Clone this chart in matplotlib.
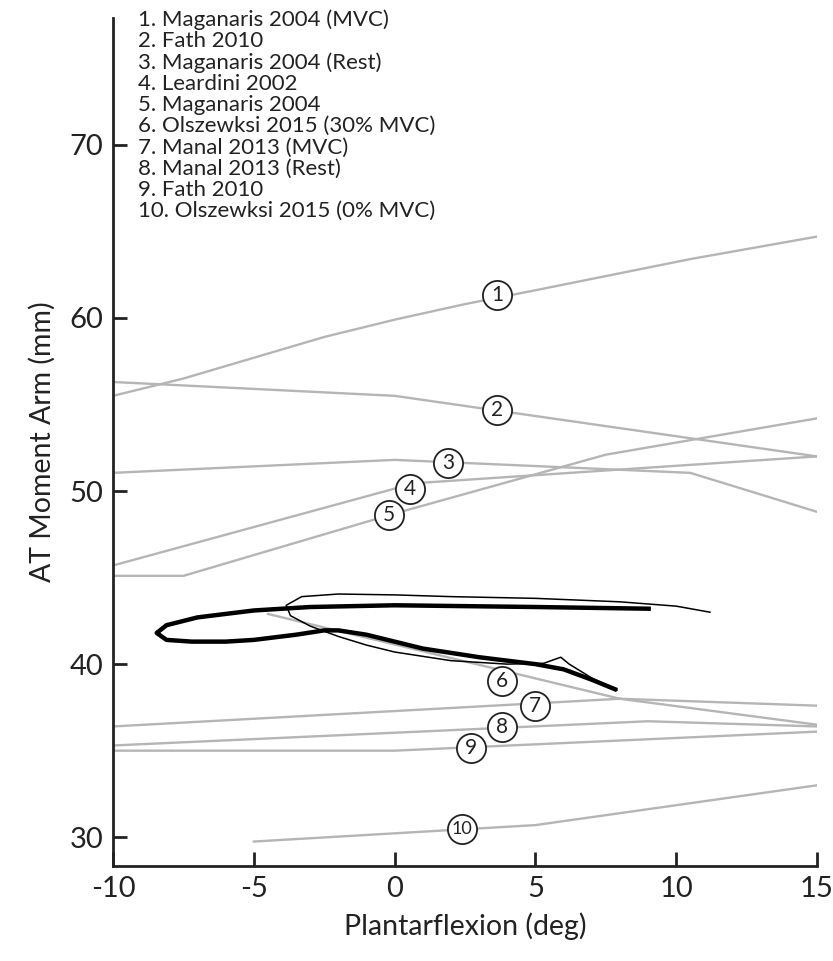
import numpy as np
import matplotlib
matplotlib.use("Agg")
from matplotlib import pyplot as plt

plt.rcParams['font.family'] = ['Lato', 'DejaVu Sans']
plt.rcParams['axes.unicode_minus'] = False

# study names for the key
studies = ['Maganaris 2004 (MVC)', 'Fath 2010', 'Maganaris 2004 (Rest)',
           'Leardini 2002', 'Maganaris 2004', 'Olszewksi 2015 (30% MVC)',
           'Manal 2013 (MVC)', 'Manal 2013 (Rest)', 'Fath 2010',
           'Olszewksi 2015 (0% MVC)']

# literature curves (angle in deg, moment arm in mm)
s1_x = [-10, -7.5, -5, -2.5, 0, 2.5, 5, 10.5, 15]
s1_y = [55.5, 56.5, 57.7, 58.9, 59.9, 60.8, 61.6, 63.4, 64.7]
s2_x = [-10, 0, 15]
s2_y = [56.3, 55.5, 52.0]
s3_x = [-10, 0, 10.5, 15]
s3_y = [51.05, 51.8, 51.05, 48.8]
s4_x = [-10, 0.7, 15]
s4_y = [45.7, 50.45, 52.0]
s5_x = [-10, -7.5, 0, 7.5, 15]
s5_y = [45.1, 45.1, 48.7, 52.1, 54.2]
s6_x = [-4.5, 8, 15]
s6_y = [42.9, 38.0, 36.5]
s7_x = [-10, 8, 15]
s7_y = [36.4, 38.0, 37.6]
s8_x = [-10, 9, 15]
s8_y = [35.3, 36.7, 36.4]
s9_x = [-10, 0, 15]
s9_y = [35.0, 35.0, 36.1]
s10_x = [-5, 5, 15]
s10_y = [29.75, 30.7, 33.0]

# measured loops (thin and thick)
thin_x = [11.2, 10.0, 8.0, 5.0, 2.0, 0.0, -2.0, -3.3, -3.85, -3.7, -3.0,
          -2.0, -1.0, 0.0, 2.0, 4.0, 5.3, 5.9, 6.2, 7.0, 7.9]
thin_y = [43.0, 43.35, 43.6, 43.8, 43.9, 44.0, 44.05, 43.9, 43.4, 42.8, 42.2,
          41.6, 41.1, 40.7, 40.2, 40.0, 40.05, 40.4, 40.0, 39.2, 38.5]
thick_x = [9.1, 5.0, 0.0, -3.0, -5.0, -7.0, -8.1, -8.45, -8.1, -7.2, -6.0,
           -5.0, -3.5, -2.5, -2.0, -1.0, 0.0, 1.0, 3.0, 5.0, 6.0, 7.0, 7.9]
thick_y = [43.2, 43.3, 43.4, 43.3, 43.1, 42.7, 42.25, 41.8, 41.4, 41.3, 41.3,
           41.4, 41.7, 41.95, 41.95, 41.7, 41.3, 40.9, 40.4, 40.0, 39.7, 39.1, 38.5]

# circled number positions
lab_x = [3.64, 3.64, 1.9, 0.55, -0.2, 3.8, 5.0, 3.8, 2.7, 2.4]
lab_y = [61.3, 54.7, 51.6, 50.1, 48.6, 39.0, 37.6, 36.35, 35.15, 30.5]

series = [(s1_x, s1_y), (s2_x, s2_y), (s3_x, s3_y), (s4_x, s4_y), (s5_x, s5_y),
          (s6_x, s6_y), (s7_x, s7_y), (s8_x, s8_y), (s9_x, s9_y), (s10_x, s10_y)]

fig = plt.figure(figsize=(8.33, 9.61), dpi=100)
ax = fig.add_axes([0.1357, 0.0989, 0.8451, 0.8824])

for sx, sy in series:
    ax.plot(sx, sy, color='#b5b5b5', lw=1.7, zorder=2)

ax.plot(thin_x, thin_y, color='black', lw=1.1, zorder=3)
ax.plot(thick_x, thick_y, color='black', lw=3.2, zorder=4, solid_capstyle='butt')

# circled labels
ax.scatter(lab_x, lab_y, s=440, facecolor='white', edgecolor='#222222',
           linewidth=1.3, zorder=5)
for i, (lx, ly) in enumerate(zip(lab_x, lab_y)):
    num = str(i + 1)
    ax.text(lx, ly, num, ha='center', va='center', zorder=6,
            fontsize=15 if len(num) == 1 else 13, color='#222222')

# key in the top left
key = '\n'.join(f'{i + 1}. {name}' for i, name in enumerate(studies))
ax.text(0.036, 1.01, key, transform=ax.transAxes, ha='left', va='top',
        fontsize=16, color='#222222', linespacing=1.07)

ax.set_xlim(-10, 15)
ax.set_ylim(28.34, 77.33)
ax.set_xticks([-10, -5, 0, 5, 10, 15])
ax.set_yticks([30, 40, 50, 60, 70])
ax.tick_params(direction='in', length=10, width=2, labelsize=21, colors='#222222', pad=7)
for spine in ('top', 'right'):
    ax.spines[spine].set_visible(False)
for spine in ('left', 'bottom'):
    ax.spines[spine].set_linewidth(2)
    ax.spines[spine].set_color('#222222')

ax.set_xlabel('Plantarflexion (deg)', fontsize=20.5, color='#222222', labelpad=8)
ax.set_ylabel('AT Moment Arm (mm)', fontsize=20.5, color='#222222', labelpad=10)

plt.savefig('out.png', dpi=100)
